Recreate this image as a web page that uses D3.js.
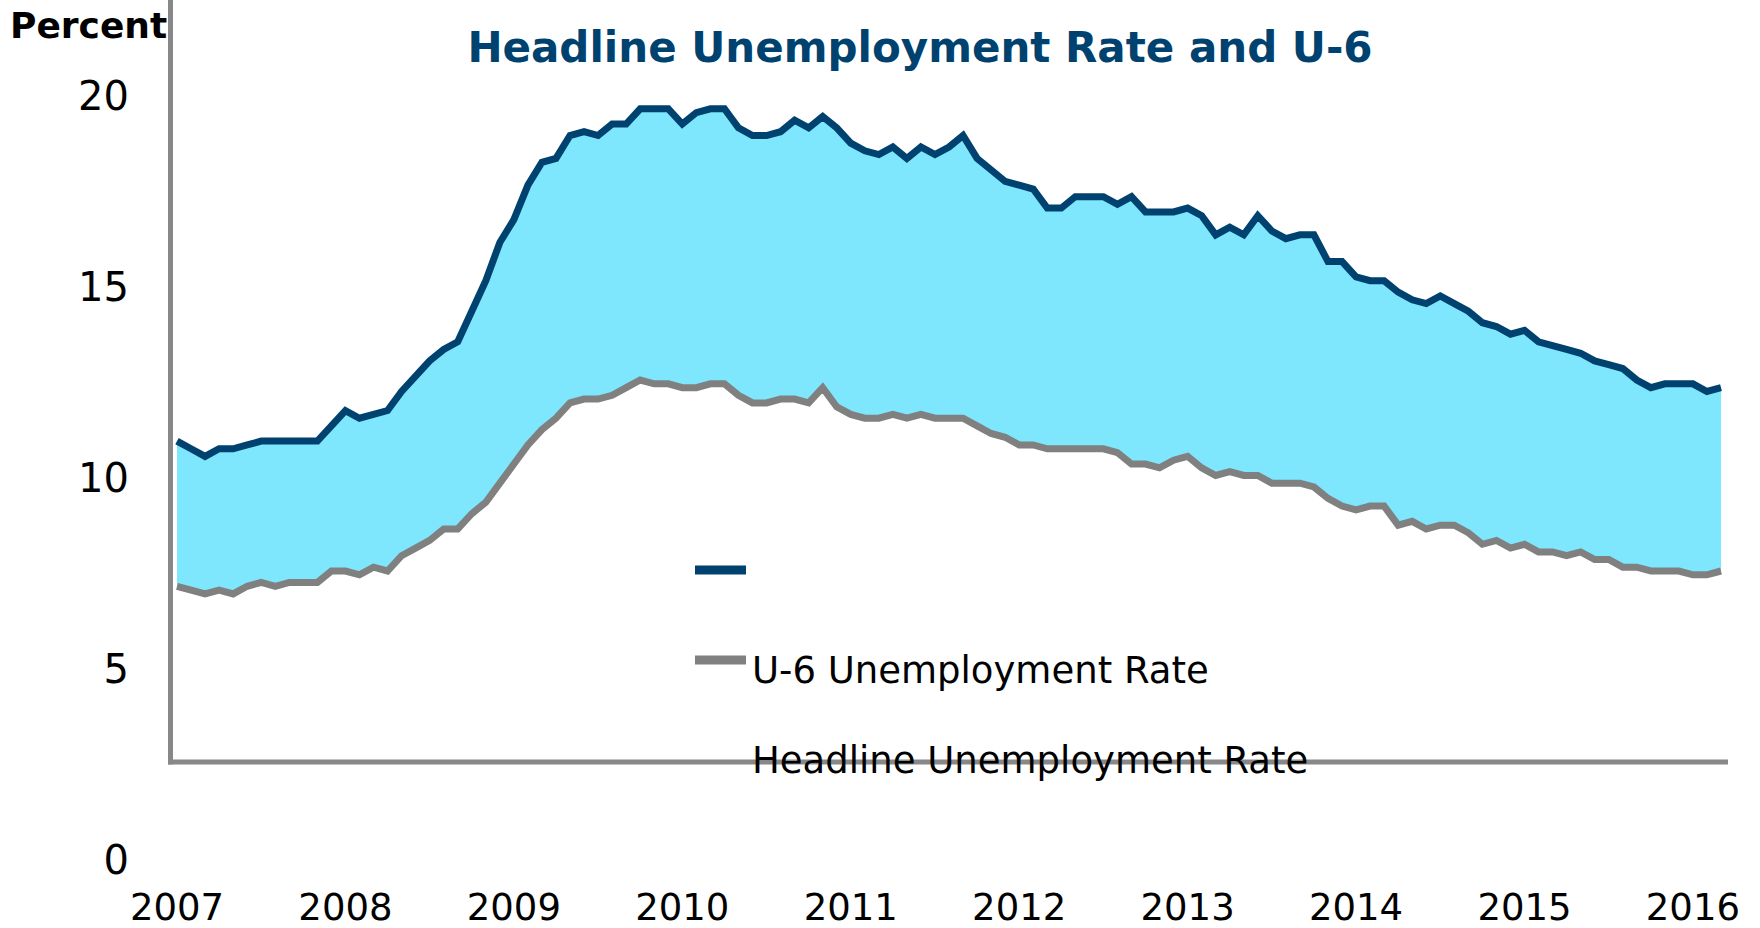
<!DOCTYPE html>
<html>
<head>
<meta charset="utf-8">
<script src="https://cdn.jsdelivr.net/npm/d3@7"></script>
<style>
  body { margin: 0; background: #fff; }
  svg { display: block; font-family: "DejaVu Sans", Verdana, sans-serif; }
</style>
</head>
<body>
<div id="chart"></div>
<script>
// monthly values, Jan 2007 - Mar 2016
const yearLabels = ["2007", "2008", "2009", "2010", "2011", "2012", "2013", "2014", "2015", "2016"];

const u6Rate = [
  8.4, 8.2, 8.0, 8.2, 8.2, 8.3, 8.4, 8.4, 8.4, 8.4, 8.4, 8.8,
  9.2, 9.0, 9.1, 9.2, 9.7, 10.1, 10.5, 10.8, 11.0, 11.8, 12.6, 13.6,
  14.2, 15.1, 15.7, 15.8, 16.4, 16.5, 16.4, 16.7, 16.7, 17.1, 17.1, 17.1,
  16.7, 17.0, 17.1, 17.1, 16.6, 16.4, 16.4, 16.5, 16.8, 16.6, 16.9, 16.6,
  16.2, 16.0, 15.9, 16.1, 15.8, 16.1, 15.9, 16.1, 16.4, 15.8, 15.5, 15.2,
  15.1, 15.0, 14.5, 14.5, 14.8, 14.8, 14.8, 14.6, 14.8, 14.4, 14.4, 14.4,
  14.5, 14.3, 13.8, 14.0, 13.8, 14.3, 13.9, 13.7, 13.8, 13.8, 13.1, 13.1,
  12.7, 12.6, 12.6, 12.3, 12.1, 12.0, 12.2, 12.0, 11.8, 11.5, 11.4, 11.2,
  11.3, 11.0, 10.9, 10.8, 10.7, 10.5, 10.4, 10.3, 10.0, 9.8, 9.9, 9.9,
  9.9, 9.7, 9.8
];

const headlineRate = [
  4.6, 4.5, 4.4, 4.5, 4.4, 4.6, 4.7, 4.6, 4.7, 4.7, 4.7, 5.0,
  5.0, 4.9, 5.1, 5.0, 5.4, 5.6, 5.8, 6.1, 6.1, 6.5, 6.8, 7.3,
  7.8, 8.3, 8.7, 9.0, 9.4, 9.5, 9.5, 9.6, 9.8, 10.0, 9.9, 9.9,
  9.8, 9.8, 9.9, 9.9, 9.6, 9.4, 9.4, 9.5, 9.5, 9.4, 9.8, 9.3,
  9.1, 9.0, 9.0, 9.1, 9.0, 9.1, 9.0, 9.0, 9.0, 8.8, 8.6, 8.5,
  8.3, 8.3, 8.2, 8.2, 8.2, 8.2, 8.2, 8.1, 7.8, 7.8, 7.7, 7.9,
  8.0, 7.7, 7.5, 7.6, 7.5, 7.5, 7.3, 7.3, 7.3, 7.2, 6.9, 6.7,
  6.6, 6.7, 6.7, 6.2, 6.3, 6.1, 6.2, 6.2, 6.0, 5.7, 5.8, 5.6,
  5.7, 5.5, 5.5, 5.4, 5.5, 5.3, 5.3, 5.1, 5.1, 5.0, 5.0, 5.0,
  4.9, 4.9, 5.0
];

const yTicks = [0, 5, 10, 15, 20];

const legendLabels = ["", "U-6 Unemployment Rate", "Headline Unemployment Rate"];
const legendColors = ["#00426f", "#808080", null];

const width = 1760, height = 928;
const navy = "#00426f";

const svg = d3.select("#chart")
  .append("svg")
  .attr("width", width)
  .attr("height", height);

// scales
const x = d3.scaleLinear()
  .domain([0, u6Rate.length - 1])
  .range([177, 1721]);

const y = d3.scaleLinear()
  .domain([0, 20])
  .range([762, -2]);

// tick labels sit ~99px below the plotted values (as in the original)
const yLabel = d3.scaleLinear()
  .domain([0, 20])
  .range([861, 97]);

// shaded gap between the two rates
svg.append("path")
  .datum(u6Rate)
  .attr("fill", "#7ee6fd")
  .attr("d", d3.area()
    .x((d, i) => x(i))
    .y0((d, i) => y(headlineRate[i]))
    .y1(d => y(d)));

// lines
const line = d3.line()
  .x((d, i) => x(i))
  .y(d => y(d));

svg.append("path")
  .datum(headlineRate)
  .attr("fill", "none")
  .attr("stroke", "#808080")
  .attr("stroke-width", 7)
  .attr("stroke-linejoin", "miter")
  .attr("d", line);

svg.append("path")
  .datum(u6Rate)
  .attr("fill", "none")
  .attr("stroke", navy)
  .attr("stroke-width", 7)
  .attr("stroke-linejoin", "miter")
  .attr("d", line);

// axis lines
svg.append("line")
  .attr("x1", 170.5).attr("x2", 170.5)
  .attr("y1", 0).attr("y2", 764.5)
  .attr("stroke", "#888")
  .attr("stroke-width", 5);

svg.append("line")
  .attr("x1", 168).attr("x2", 1728)
  .attr("y1", y(0)).attr("y2", y(0))
  .attr("stroke", "#888")
  .attr("stroke-width", 5);

// y labels
const yAxis = svg.append("g")
  .attr("transform", "translate(140,0)")
  .call(d3.axisLeft(yLabel).tickValues(yTicks).tickSize(0).tickPadding(11));
yAxis.select(".domain").remove();
yAxis.selectAll("text")
  .attr("font-family", "DejaVu Sans, Verdana, sans-serif")
  .attr("font-size", 40)
  .attr("fill", "#000");

// x labels
svg.append("g")
  .selectAll("text")
  .data(yearLabels)
  .enter()
  .append("text")
  .attr("x", (d, i) => x(i * 12))
  .attr("y", 920)
  .attr("text-anchor", "middle")
  .attr("font-size", 37)
  .text(d => d);

// titles
svg.append("text")
  .attr("x", 10)
  .attr("y", 38)
  .attr("font-size", 36)
  .attr("font-weight", "bold")
  .attr("fill", "#000")
  .text("Percent");

svg.append("text")
  .attr("x", 920)
  .attr("y", 62)
  .attr("text-anchor", "middle")
  .attr("font-size", 42)
  .attr("font-weight", "bold")
  .attr("fill", navy)
  .text("Headline Unemployment Rate and U-6");

// legend
const legend = svg.append("g")
  .attr("transform", "translate(695,570)");

legendLabels.forEach((label, i) => {
  const row = legend.append("g")
    .attr("transform", `translate(0,${i * 90})`);
  if (legendColors[i]) {
    row.append("rect")
      .attr("x", 0)
      .attr("y", -4.5)
      .attr("width", 51)
      .attr("height", 9)
      .attr("fill", legendColors[i]);
  }
  row.append("text")
    .attr("x", 57)
    .attr("y", 23)
    .attr("font-size", 37)
    .attr("fill", "#000")
    .text(label);
});
</script>
</body>
</html>
